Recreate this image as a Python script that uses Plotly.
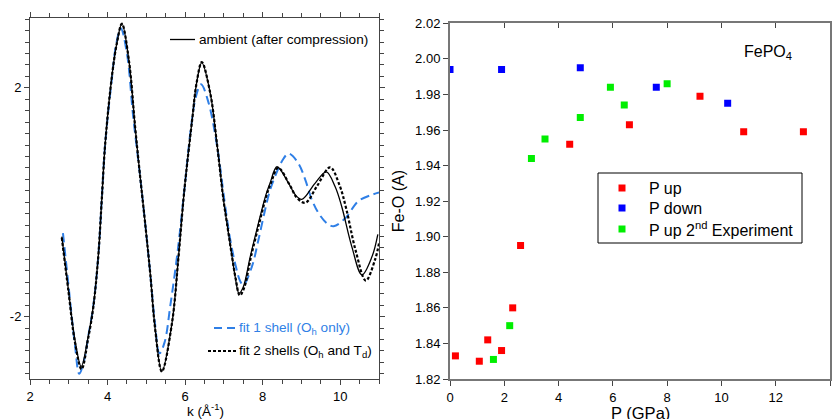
import plotly.graph_objects as go

# ---------------- Left panel: EXAFS k-space data ----------------
k_amb = [2.82, 2.99, 3.16, 3.32, 3.50, 3.63, 3.76, 3.85, 3.94, 4.11, 4.24, 4.37, 4.55, 4.71, 4.84, 4.97,
         5.10, 5.23, 5.40, 5.66, 5.83, 5.98, 6.18, 6.30, 6.43, 6.65, 6.82, 6.99, 7.08, 7.21, 7.29, 7.39,
         7.50, 7.68, 7.89, 8.08, 8.19, 8.37, 8.67, 8.84, 9.01, 9.35, 9.64, 9.87, 10.04, 10.30, 10.56,
         10.82, 10.97]
v_amb = [-0.60, -1.53, -2.41, -2.87, -2.35, -1.83, -0.95, 0.04, 1.03, 2.19, 2.78, 3.12, 2.48, 1.32, 0.45, -0.37,
         -1.24, -2.23, -2.96, -2.12, -0.95, 0.21, 1.43, 2.10, 2.44, 1.90, 1.03, 0.04, -0.37, -0.95, -1.30, -1.59,
         -1.48, -0.95, -0.37, 0.12, 0.33, 0.62, 0.33, 0.13, 0.05, 0.33, 0.53, 0.27, -0.08, -0.78, -1.27,
         -0.95, -0.56]

k_fit1 = [2.85, 3.00, 3.16, 3.27, 3.40, 3.50, 3.63, 3.76, 3.85, 3.94, 4.11, 4.22, 4.34, 4.50, 4.66, 4.84,
          4.97, 5.10, 5.22, 5.34, 5.47, 5.62, 5.80, 5.98, 6.15, 6.28, 6.41, 6.60, 6.82, 7.02, 7.15, 7.30,
          7.42, 7.50, 7.72, 7.89, 8.06, 8.19, 8.32, 8.50, 8.67, 8.92, 9.10, 9.27, 9.44, 9.66, 9.83, 10.13,
          10.47, 10.82, 11.0]
v_fit1 = [-0.54, -1.50, -2.50, -3.00, -2.75, -2.35, -1.83, -0.95, 0.04, 1.03, 2.15, 2.75, 3.04, 2.60, 1.50, 0.45,
          -0.37, -1.24, -2.10, -2.64, -2.45, -1.80, -0.90, 0.21, 1.30, 1.85, 2.06, 1.75, 1.00, 0.00, -0.60, -1.10,
          -1.38, -1.45, -1.13, -0.66, -0.14, 0.21, 0.45, 0.72, 0.85, 0.68, 0.39, 0.04, -0.19, -0.37, -0.42, -0.28,
          0.02, 0.13, 0.17]

k_fit2 = [2.82, 2.99, 3.16, 3.33, 3.50, 3.63, 3.76, 3.85, 3.94, 4.11, 4.24, 4.37, 4.55, 4.71, 4.84, 4.97,
          5.10, 5.23, 5.40, 5.66, 5.83, 5.98, 6.18, 6.30, 6.43, 6.65, 6.82, 6.99, 7.08, 7.21, 7.30, 7.41,
          7.52, 7.70, 7.91, 8.10, 8.21, 8.40, 8.70, 8.88, 9.10, 9.40, 9.74, 9.98, 10.15, 10.40, 10.66,
          10.90, 11.0]
v_fit2 = [-0.62, -1.55, -2.45, -2.92, -2.38, -1.85, -0.95, 0.04, 1.03, 2.19, 2.78, 3.12, 2.48, 1.32, 0.45, -0.37,
          -1.24, -2.23, -2.96, -2.12, -0.95, 0.21, 1.43, 2.10, 2.45, 1.90, 1.03, 0.04, -0.37, -0.95, -1.32, -1.63,
          -1.50, -0.95, -0.37, 0.12, 0.33, 0.60, 0.30, 0.08, -0.01, 0.28, 0.61, 0.30, -0.10, -0.85, -1.37,
          -1.00, -0.72]

k_ticks = [2, 4, 6, 8, 10]
chi_ticks = [-2, 2]
chi_ticktext = ["-2", "2"]

# ---------------- Right panel: Fe-O distance vs pressure ----------------
p_up = [0.2, 1.08, 1.39, 1.90, 2.31, 2.6, 4.41, 6.61, 9.21, 10.82, 13.02]
feo_up = [1.833, 1.830, 1.842, 1.836, 1.860, 1.895, 1.952, 1.963, 1.979, 1.959, 1.959]
p_down = [0.0, 1.9, 4.8, 7.6, 10.23]
feo_down = [1.994, 1.994, 1.995, 1.984, 1.975]
p_up2 = [1.6, 2.2, 3.0, 3.5, 4.8, 5.91, 6.42, 8.0]
feo_up2 = [1.831, 1.850, 1.944, 1.955, 1.967, 1.984, 1.974, 1.986]

series_names = ["P up", "P down", "P up 2<sup>nd</sup> Experiment"]
series_colors = ["#ff0000", "#0000ff", "#00ee00"]

FONT = "Liberation Sans, Arial, Helvetica, sans-serif"
W, H = 837, 419
BLUE = "#2f7fe6"


def px(x):
    return x / W


def py(y):
    return 1 - y / H


fig = go.Figure()

fig.add_trace(go.Scatter(x=k_fit1, y=v_fit1, mode="lines", line=dict(color=BLUE, width=2, dash="9px,5px", shape="spline", smoothing=1.0),
                         xaxis="x", yaxis="y", showlegend=False, hoverinfo="skip"))
fig.add_trace(go.Scatter(x=k_amb, y=v_amb, mode="lines", line=dict(color="black", width=1.3, shape="spline", smoothing=1.0),
                         xaxis="x", yaxis="y", showlegend=False, hoverinfo="skip"))
fig.add_trace(go.Scatter(x=k_fit2, y=v_fit2, mode="lines", line=dict(color="black", width=2.2, dash="3px,2px", shape="spline", smoothing=1.0),
                         xaxis="x", yaxis="y", showlegend=False, hoverinfo="skip"))

for xs, ys, nm, col in zip([p_up, p_down, p_up2], [feo_up, feo_down, feo_up2], series_names, series_colors):
    fig.add_trace(go.Scatter(x=xs, y=ys, mode="markers", name=nm, showlegend=False,
                             marker=dict(symbol="square", size=7, color=col), xaxis="x2", yaxis="y2"))
# invisible trace to activate the top (inside-tick) axis of the right panel
fig.add_trace(go.Scatter(x=p_up, y=feo_up, mode="markers", marker=dict(opacity=0), xaxis="x3", yaxis="y2",
                         showlegend=False, hoverinfo="skip"))

left_dom_x = [px(30), px(379)]
left_dom_y = [py(379), py(18)]
right_dom_x = [px(450), px(830)]
right_dom_y = [py(379), py(23.3)]

axis_common = dict(showgrid=False, zeroline=False, automargin=False,
                   tickfont=dict(family=FONT, size=13, color="black"))

fig.update_layout(
    width=W, height=H,
    margin=dict(l=0, r=0, t=0, b=0, pad=0),
    paper_bgcolor="white", plot_bgcolor="white",
    font=dict(family=FONT, color="black"),
    xaxis=dict(domain=left_dom_x, anchor="y", range=[2, 11], tickvals=k_ticks,
               ticks="outside", ticklen=5, tickcolor="#444", showline=True, linecolor="#444", linewidth=1,
               mirror="ticks",
               minor=dict(dtick=0.5, ticks="outside", ticklen=4, tickcolor="#444"),
               **axis_common),
    yaxis=dict(domain=left_dom_y, anchor="x", range=[-3.09, 3.22], tickvals=chi_ticks, ticktext=chi_ticktext,
               ticks="outside", ticklen=5, tickcolor="#444", showline=True, linecolor="#444", linewidth=1,
               mirror="ticks",
               minor=dict(dtick=0.2, tick0=0, ticks="outside", ticklen=4, tickcolor="#444"),
               **axis_common),
    xaxis2=dict(domain=right_dom_x, anchor="y2", range=[0, 14], dtick=2,
                ticks="outside", ticklen=5, tickcolor="#444", showline=True, linecolor="#777", linewidth=2,
                mirror=True,
                **axis_common),
    xaxis3=dict(overlaying="x2", anchor="y2", side="top", range=[0, 14], dtick=2,
                ticks="inside", ticklen=5, tickcolor="#444", showticklabels=False, showline=False,
                showgrid=False, zeroline=False, automargin=False),
    yaxis2=dict(domain=right_dom_y, anchor="x2", range=[1.82, 2.02], dtick=0.02, tickformat=".2f",
                ticks="outside", ticklen=5, tickcolor="#444", showline=True, linecolor="#777", linewidth=2,
                mirror=True,
                title=dict(text="Fe-O (A)", font=dict(family=FONT, size=16), standoff=6),
                **axis_common),
    showlegend=False,
)

# Legends drawn as samples + text
shapes = [
    dict(type="line", xref="paper", yref="paper", x0=px(170), x1=px(195), y0=py(39.5), y1=py(39.5),
         line=dict(color="black", width=1.3)),
    dict(type="line", xref="paper", yref="paper", x0=px(214), x1=px(236), y0=py(328), y1=py(328),
         line=dict(color=BLUE, width=2, dash="8px,5px")),
    dict(type="line", xref="paper", yref="paper", x0=px(208), x1=px(237), y0=py(351), y1=py(351),
         line=dict(color="black", width=2.2, dash="3px,2px")),
    dict(type="rect", xref="paper", yref="paper", x0=px(598), x1=px(802), y0=py(243), y1=py(173),
         line=dict(color="black", width=1), fillcolor="rgba(0,0,0,0)"),
]
annotations = [
    dict(text="ambient (after compression)", x=px(197), y=py(40), xref="paper", yref="paper",
         xanchor="left", yanchor="middle", showarrow=False, font=dict(family=FONT, size=13.6, color="black")),
    dict(text="fit 1 shell (O<sub>h</sub> only)", x=px(237), y=py(328), xref="paper", yref="paper",
         xanchor="left", yanchor="middle", showarrow=False, font=dict(family=FONT, size=13.6, color=BLUE)),
    dict(text="fit 2 shells (O<sub>h</sub> and T<sub>d</sub>)", x=px(237), y=py(351), xref="paper", yref="paper",
         xanchor="left", yanchor="middle", showarrow=False, font=dict(family=FONT, size=13.6, color="black")),
    dict(text="FePO<sub>4</sub>", x=px(742), y=py(52), xref="paper", yref="paper",
         xanchor="left", yanchor="middle", showarrow=False, font=dict(family=FONT, size=16, color="black")),
    dict(text="k (Å<sup>-1</sup>)", x=px(205), y=py(410), xref="paper", yref="paper",
         xanchor="center", yanchor="middle", showarrow=False, font=dict(family=FONT, size=13.5, color="black")),
    dict(text="P (GPa)", x=px(640), y=py(412.5), xref="paper", yref="paper",
         xanchor="center", yanchor="middle", showarrow=False, font=dict(family=FONT, size=16.5, color="black")),
]
row_y = [188, 208, 229]
for nm, col, ry in zip(series_names, series_colors, row_y):
    shapes.append(dict(type="rect", xref="paper", yref="paper", x0=px(618.5), x1=px(625.5),
                       y0=py(ry + 3.5), y1=py(ry - 3.5), line=dict(width=0), fillcolor=col))
    annotations.append(dict(text=nm, x=px(647), y=py(ry), xref="paper", yref="paper",
                            xanchor="left", yanchor="middle", showarrow=False,
                            font=dict(family=FONT, size=16, color="black")))
fig.update_layout(shapes=shapes, annotations=annotations)

fig.write_html("out.html", config={"displayModeBar": False},
               post_script="document.body.style.margin='0';document.body.style.padding='0';")
